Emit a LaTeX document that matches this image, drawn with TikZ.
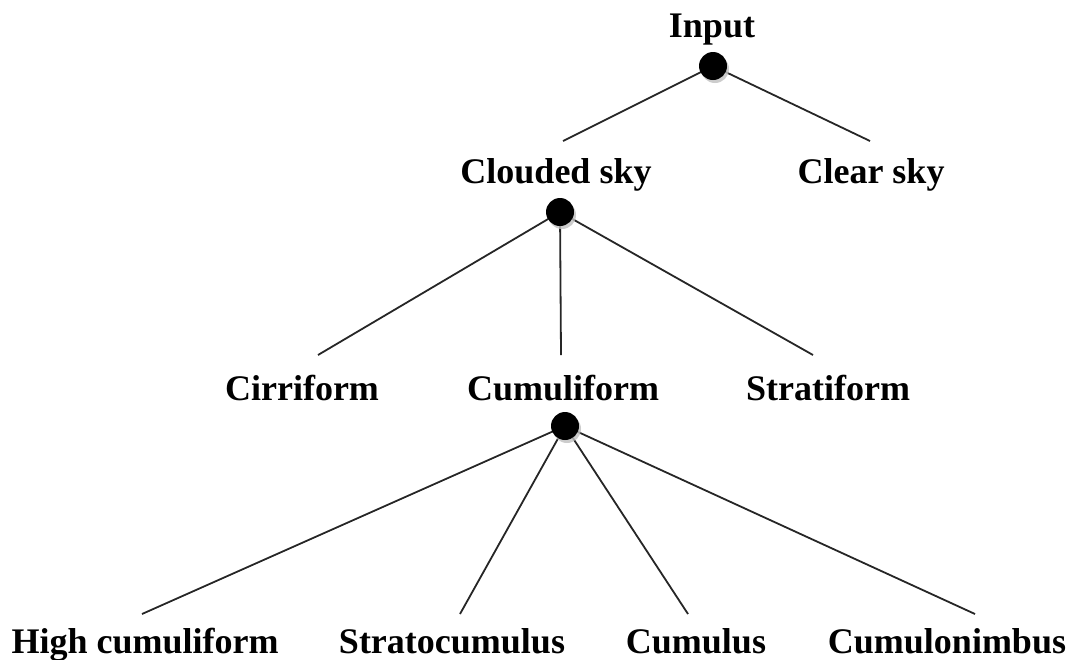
\documentclass[tikz,border=0pt]{standalone}
\usepackage{fontspec}
\setmainfont{Liberation Serif}
\usetikzlibrary{shadows}
\begin{document}
\begin{tikzpicture}[x=1pt,y=-1pt,
  lbl/.style={font=\fontsize{36}{40}\selectfont\bfseries, anchor=base, inner sep=0pt},
  dot/.style={circle, fill=black, minimum size=28pt, inner sep=0pt,
    drop shadow={shadow xshift=2pt, shadow yshift=-3pt, fill=black!25, opacity=0.8}},
  edge/.style={draw=black!85, line width=1.8pt}]
\useasboundingbox (0,0) rectangle (1075,659);
% labels
\node[lbl] (input)   at (712,37)  {Input};
\node[lbl] (clouded) at (556,183) {Clouded sky};
\node[lbl] (clear)   at (871,183) {Clear sky};
\node[lbl] (cirri)   at (302,400) {Cirriform};
\node[lbl] (cumuli)  at (563,400) {Cumuliform};
\node[lbl] (strati)  at (828,400) {Stratiform};
\node[lbl] (high)    at (145,653) {High cumuliform};
\node[lbl] (strcu)   at (452,653) {Stratocumulus};
\node[lbl] (cumulus) at (696,653) {Cumulus};
\node[lbl] (cb)      at (947,653) {Cumulonimbus};
% free ends of the branches
\coordinate (e11) at (563,141);
\coordinate (e12) at (870,141);
\coordinate (e21) at (318,355);
\coordinate (e22) at (561,355);
\coordinate (e23) at (813,355);
\coordinate (e31) at (142,614);
\coordinate (e32) at (460,614);
\coordinate (e33) at (688,614);
\coordinate (e34) at (975,614);
% branch points
\coordinate (d1) at (713,66);
\coordinate (d2) at (560,212);
\coordinate (d3) at (565,426);
\draw[edge] (e11) -- (d1) -- (e12);
\draw[edge] (e21) -- (d2) -- (e23);
\draw[edge] (d2) -- (e22);
\draw[edge] (e31) -- (d3) -- (e34);
\draw[edge] (e32) -- (d3) -- (e33);
\node[dot] (n1) at (d1) {};
\node[dot] (n2) at (d2) {};
\node[dot] (n3) at (d3) {};
\end{tikzpicture}
\end{document}
